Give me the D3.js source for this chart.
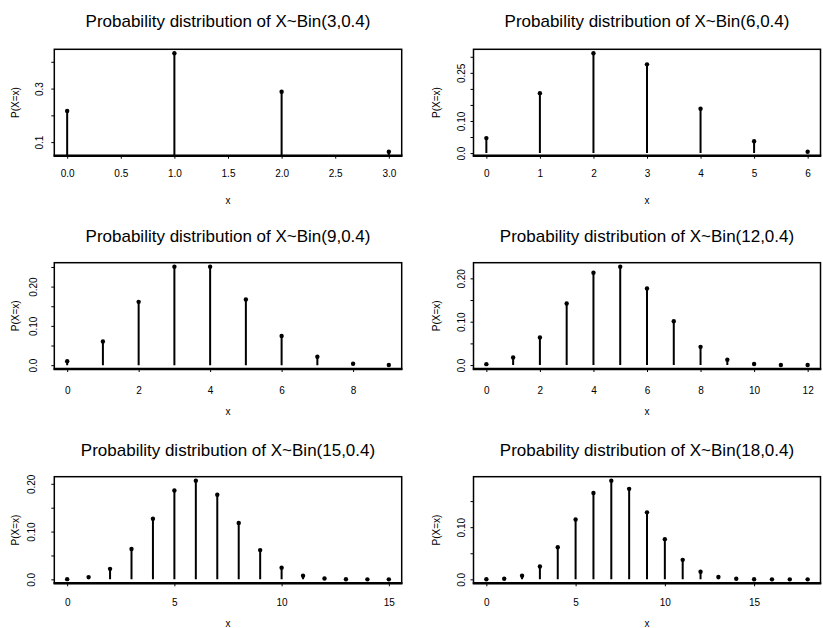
<!DOCTYPE html>
<html>
<head>
<meta charset="utf-8">
<script src="https://cdn.jsdelivr.net/npm/d3@7"></script>
<style>
  body { margin: 0; background: #fff; }
  svg { display: block; }
  text { font-family: "Liberation Sans", Arial, Helvetica, sans-serif; fill: #000; }
</style>
</head>
<body>
<svg id="chart" width="823" height="628"></svg>
<script>
// Binomial(n, 0.4) probabilities for each panel
const trials = [3, 6, 9, 12, 15, 18];
const successProb = 0.4;

const probsN3 = [0.216, 0.432, 0.288, 0.064];
const probsN6 = [0.046656, 0.186624, 0.31104, 0.27648, 0.13824, 0.036864, 0.004096];
const probsN9 = [0.010078, 0.060466, 0.161243, 0.250823, 0.250823, 0.167215, 0.074318, 0.021234, 0.003539, 0.000262];
const probsN12 = [0.002177, 0.017414, 0.063852, 0.141894, 0.212841, 0.227030, 0.176579, 0.100902, 0.042043, 0.012457, 0.002491, 0.000302, 0.000017];
const probsN15 = [0.000470, 0.004702, 0.021942, 0.063388, 0.126776, 0.185938, 0.206598, 0.177084, 0.118056, 0.061214, 0.024486, 0.007420, 0.001649, 0.000254, 0.000024, 0.000001];
const probsN18 = [0.000102, 0.001219, 0.006908, 0.024561, 0.061402, 0.114618, 0.165559, 0.189210, 0.173443, 0.128476, 0.077086, 0.037375, 0.014535, 0.004472, 0.001065, 0.000189, 0.000024, 0.000002, 0.0000001];

// Axis ticks and their printed labels (empty string = unlabeled tick)
const xTicksN3 = [0, 0.5, 1, 1.5, 2, 2.5, 3];
const xLabelsN3 = ["0.0", "0.5", "1.0", "1.5", "2.0", "2.5", "3.0"];
const xTicksN6 = [0, 1, 2, 3, 4, 5, 6];
const xLabelsN6 = ["0", "1", "2", "3", "4", "5", "6"];
const xTicksN9 = [0, 2, 4, 6, 8];
const xLabelsN9 = ["0", "2", "4", "6", "8"];
const xTicksN12 = [0, 2, 4, 6, 8, 10, 12];
const xLabelsN12 = ["0", "2", "4", "6", "8", "10", "12"];
const xTicksN15 = [0, 5, 10, 15];
const xLabelsN15 = ["0", "5", "10", "15"];
const xTicksN18 = [0, 5, 10, 15];
const xLabelsN18 = ["0", "5", "10", "15"];

const yTicksN3 = [0.1, 0.2, 0.3, 0.4];
const yLabelsN3 = ["0.1", "", "0.3", ""];
const yTicksN6 = [0, 0.05, 0.10, 0.15, 0.20, 0.25, 0.30];
const yLabelsN6 = ["0.0", "", "0.10", "", "", "0.25", ""];
const yTicksN9 = [0, 0.05, 0.10, 0.15, 0.20, 0.25];
const yLabelsN9 = ["0.0", "", "0.10", "", "0.20", ""];
const yTicksN12 = [0, 0.05, 0.10, 0.15, 0.20];
const yLabelsN12 = ["0.0", "", "0.10", "", "0.20"];
const yTicksN15 = [0, 0.05, 0.10, 0.15, 0.20];
const yLabelsN15 = ["0.0", "", "0.10", "", "0.20"];
const yTicksN18 = [0, 0.05, 0.10, 0.15];
const yLabelsN18 = ["0.0", "", "0.10", ""];

const xAxisTitle = "x";
const yAxisTitle = "P(X=x)";

const panelData = [
  { n: trials[0], probs: probsN3,  xt: xTicksN3,  xl: xLabelsN3,  yt: yTicksN3,  yl: yLabelsN3 },
  { n: trials[1], probs: probsN6,  xt: xTicksN6,  xl: xLabelsN6,  yt: yTicksN6,  yl: yLabelsN6 },
  { n: trials[2], probs: probsN9,  xt: xTicksN9,  xl: xLabelsN9,  yt: yTicksN9,  yl: yLabelsN9 },
  { n: trials[3], probs: probsN12, xt: xTicksN12, xl: xLabelsN12, yt: yTicksN12, yl: yLabelsN12 },
  { n: trials[4], probs: probsN15, xt: xTicksN15, xl: xLabelsN15, yt: yTicksN15, yl: yLabelsN15 },
  { n: trials[5], probs: probsN18, xt: xTicksN18, xl: xLabelsN18, yt: yTicksN18, yl: yLabelsN18 }
];

// Page layout: 3 rows x 2 columns of plot boxes
const cols = [
  { left: 54.3, right: 401.7, ylabX: 15.7 },
  { left: 473.5, right: 820.5, ylabX: 436 }
];
const rows = [
  { top: 49.3, bottom: 155.7, titleY: 21.5, tickY: 174, xlabY: 200 },
  { top: 262.7, bottom: 369, titleY: 236, tickY: 390.7, xlabY: 411.7 },
  { top: 476.7, bottom: 583.3, titleY: 450.5, tickY: 602.7, xlabY: 623 }
];
// horizontal centre of the rotated y tick labels, per panel
const yTickLabelX = [39.5, 461, 33, 461, 31, 461];

const svg = d3.select("#chart");
const defs = svg.append("defs");

// extend a range by 4% on each side
function padded(lo, hi) {
  const r = hi - lo;
  return [lo - 0.04 * r, hi + 0.04 * r];
}

panelData.forEach((p, i) => {
  const c = cols[i % 2];
  const r = rows[Math.floor(i / 2)];
  const xs = p.probs.map((_, k) => k);

  const x = d3.scaleLinear().domain(padded(0, p.n)).range([c.left, c.right]);
  const y = d3.scaleLinear().domain(padded(d3.min(p.probs), d3.max(p.probs))).range([r.bottom, r.top]);

  const g = svg.append("g");
  const clipId = "clip" + i;
  defs.append("clipPath").attr("id", clipId)
    .append("rect")
    .attr("x", c.left).attr("y", r.top)
    .attr("width", c.right - c.left).attr("height", r.bottom - r.top);

  // stems from 0 to each probability
  g.append("g").attr("clip-path", `url(#${clipId})`)
    .selectAll("line")
    .data(xs)
    .join("line")
    .attr("x1", k => x(k)).attr("x2", k => x(k))
    .attr("y1", y(0)).attr("y2", k => y(p.probs[k]))
    .attr("stroke", "#000").attr("stroke-width", 2);

  // points on top of the stems
  g.append("g")
    .selectAll("circle")
    .data(xs)
    .join("circle")
    .attr("cx", k => x(k)).attr("cy", k => y(p.probs[k]))
    .attr("r", 2.2).attr("fill", "#000");

  // plot box
  g.append("rect")
    .attr("x", c.left).attr("y", r.top)
    .attr("width", c.right - c.left).attr("height", r.bottom - r.top)
    .attr("fill", "none").attr("stroke", "#000").attr("stroke-width", 1.5);
  g.append("line")
    .attr("x1", c.left - 0.75).attr("x2", c.right + 0.75)
    .attr("y1", r.bottom).attr("y2", r.bottom)
    .attr("stroke", "#000").attr("stroke-width", 2.6);

  // x axis
  const xAxis = g.append("g")
    .attr("transform", `translate(0,${r.bottom})`)
    .call(d3.axisBottom(x).tickValues(p.xt).tickFormat((d, j) => p.xl[j]).tickSize(3).tickSizeOuter(0));
  xAxis.select(".domain").remove();
  xAxis.selectAll(".tick line").attr("stroke", "#000").attr("stroke-width", 1);
  xAxis.selectAll(".tick text")
    .attr("y", r.tickY - r.bottom).attr("dy", "0.35em")
    .attr("font-size", 10).attr("font-family", null);

  // y axis with labels parallel to the axis
  const yAxis = g.append("g")
    .attr("transform", `translate(${c.left},0)`)
    .call(d3.axisLeft(y).tickValues(p.yt).tickFormat((d, j) => p.yl[j]).tickSize(3).tickSizeOuter(0));
  yAxis.select(".domain").remove();
  yAxis.selectAll(".tick line").attr("stroke", "#000").attr("stroke-width", 1);
  yAxis.selectAll(".tick text")
    .attr("x", null).attr("dy", "0.35em")
    .attr("text-anchor", "middle")
    .attr("transform", `translate(${yTickLabelX[i] - c.left},0) rotate(-90)`)
    .attr("font-size", 10).attr("font-family", null);

  // titles
  g.append("text")
    .attr("x", (c.left + c.right) / 2).attr("y", r.titleY).attr("dy", "0.35em")
    .attr("text-anchor", "middle").attr("font-size", 17)
    .text(`Probability distribution of X~Bin(${p.n},${successProb})`);
  g.append("text")
    .attr("x", (c.left + c.right) / 2).attr("y", r.xlabY).attr("dy", "0.35em")
    .attr("text-anchor", "middle").attr("font-size", 10)
    .text(xAxisTitle);
  g.append("text")
    .attr("transform", `translate(${c.ylabX},${(r.top + r.bottom) / 2}) rotate(-90)`)
    .attr("dy", "0.35em")
    .attr("text-anchor", "middle").attr("font-size", 10)
    .text(yAxisTitle);
});
</script>
</body>
</html>
